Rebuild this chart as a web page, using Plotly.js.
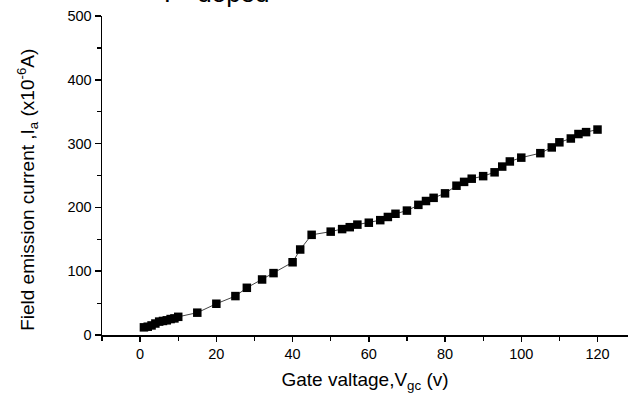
<!DOCTYPE html>
<html>
<head>
<meta charset="utf-8">
<script src="https://cdn.plot.ly/plotly-3.0.1.min.js"></script>
<style>html,body{margin:0;padding:0;background:#fff;}#chart{width:628px;height:393px;}</style>
</head>
<body>
<div id="chart"></div>
<script>
var gateVoltage = [1, 2, 3, 4, 5, 6, 7, 8, 9, 10, 15, 20, 25, 28, 32, 35, 40, 42, 45, 50, 53, 55, 57, 60, 63, 65, 67, 70, 73, 75, 77, 80, 83, 85, 87, 90, 93, 95, 97, 100, 105, 108, 110, 113, 115, 117, 120];
var emissionCurrent = [12, 13, 15, 18, 21, 22, 23, 25, 26, 28.5, 35, 49, 61, 74, 87, 97, 114, 134, 157, 162, 166, 169, 173, 176, 180, 185, 190, 195, 204, 210, 215, 222, 234, 240, 245, 249, 255, 264, 272, 278, 285, 294, 302, 308, 315, 318, 322];
var xTickVals = [0, 20, 40, 60, 80, 100, 120];
var yTickVals = [0, 100, 200, 300, 400, 500];
var titleText = "P- doped";
var yTitleText = 'Field emission current ,I<sub>a</sub> (x10<sup>-6</sup>A)';
var xTitleText = 'Gate valtage,V<sub>gc</sub> (v)';

var trace = {
  x: gateVoltage,
  y: emissionCurrent,
  type: 'scatter',
  mode: 'lines+markers',
  line: {color: '#444', width: 1},
  marker: {symbol: 'square', size: 8.5, color: '#000'},
  cliponaxis: false,
  hoverinfo: 'none'
};

var layout = {
  width: 628, height: 393,
  margin: {l: 102, r: 0, t: 16, b: 57.5, pad: 0},
  paper_bgcolor: '#fff', plot_bgcolor: '#fff',
  showlegend: false,
  font: {family: 'Liberation Sans, Arial, sans-serif', color: '#000'},
  xaxis: {
    range: [-10, 128], showgrid: false, zeroline: false,
    showline: true, linecolor: '#000', linewidth: 1.5,
    tickmode: 'array', tickvals: xTickVals,
    ticks: 'outside', ticklen: 5, tickwidth: 1.5, tickcolor: '#000',
    tickfont: {size: 14.5, color: '#000'},
    minor: {dtick: 10, tick0: 0, ticks: 'outside', ticklen: 4, tickwidth: 1.2, tickcolor: '#000', showgrid: false},
    title: {text: xTitleText, font: {size: 19, color: '#000'}, standoff: 14}
  },
  yaxis: {
    range: [0, 500], showgrid: false, zeroline: false,
    showline: true, linecolor: '#000', linewidth: 1.5,
    tickmode: 'array', tickvals: yTickVals,
    ticks: 'outside', ticklen: 6, tickwidth: 1.5, tickcolor: '#000',
    tickfont: {size: 14.5, color: '#000'},
    minor: {dtick: 50, tick0: 0, ticks: 'outside', ticklen: 4, tickwidth: 1.2, tickcolor: '#000', showgrid: false}
  },
  annotations: [{
    text: titleText, xref: 'paper', yref: 'paper',
    x: (216.5 - 102) / 526, y: 1.018, xanchor: 'center', yanchor: 'bottom',
    showarrow: false, font: {size: 26, color: '#000'}
  }, {
    text: yTitleText, xref: 'paper', yref: 'paper', textangle: -90,
    x: (28 - 102) / 526, y: (335.5 - 190) / 319.8, xanchor: 'center', yanchor: 'middle',
    showarrow: false, font: {size: 19, color: '#000'}
  }]
};

Plotly.newPlot('chart', [trace], layout, {staticPlot: true, displayModeBar: false});
</script>
</body>
</html>
